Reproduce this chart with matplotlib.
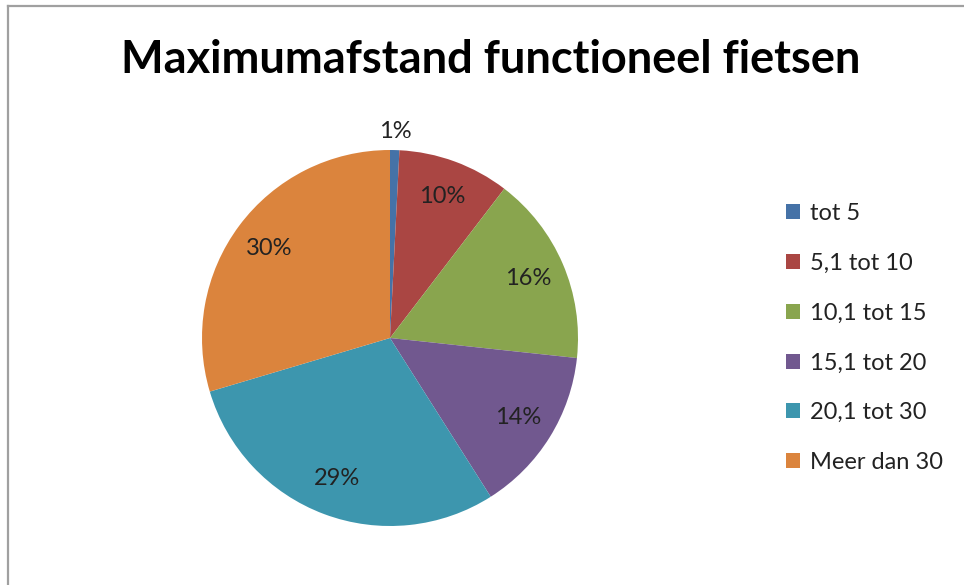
import matplotlib
matplotlib.use("Agg")
import matplotlib.pyplot as plt
from matplotlib.lines import Line2D

# afstand in km, aandeel in %
categories = ["tot 5", "5,1 tot 10", "10,1 tot 15", "15,1 tot 20", "20,1 tot 30", "Meer dan 30"]
shares = [0.8, 9.6, 16.3, 14.3, 29.4, 29.6]
colors = ["#4572A7", "#AA4643", "#89A54E", "#71588F", "#3D96AE", "#DB843D"]
title = "Maximumafstand functioneel fietsen"

W, H = 964, 585
fig = plt.figure(figsize=(W / 100, H / 100), dpi=100)
plt.rcParams['font.family'] = ['Lato', 'DejaVu Sans']

# grey frame on top and left
fig.add_artist(Line2D([8 / W, 8 / W], [0, 1 - 6 / H], color="#A0A0A0", lw=1.6))
fig.add_artist(Line2D([8 / W, 1], [1 - 6 / H, 1 - 6 / H], color="#A0A0A0", lw=1.6))

fig.text(491 / W, 1 - 60 / H, title, ha="center", va="center",
         fontsize=32.5, fontweight="bold", color="black")

cx, cy, r = 390, 338, 188
ax = fig.add_axes([(cx - r) / W, (H - cy - r) / H, 2 * r / W, 2 * r / H])
wedges, texts, autotexts = ax.pie(
    shares, colors=colors, startangle=90, counterclock=False,
    autopct=lambda p: f"{p:.0f}%", pctdistance=0.8, radius=1,
    wedgeprops=dict(linewidth=0),
    textprops=dict(fontsize=17, color="#222222"))
# small slice label sits outside the pie
x, y = autotexts[0].get_position()
autotexts[0].set_position((x * 1.1 / 0.8, y * 1.1 / 0.8))
ax.set_xlim(-1, 1)
ax.set_ylim(-1, 1)
ax.set_aspect("equal")
ax.axis("off")

fig.legend(wedges, categories, loc="center left",
           bbox_to_anchor=(786 / W, 1 - 338 / H), frameon=False,
           borderpad=0, borderaxespad=0,
           fontsize=17, handlelength=0.6, handleheight=0.6,
           handletextpad=0.4, labelspacing=1.22, labelcolor="#222222")

fig.savefig("out.png", dpi=100, facecolor="white")
